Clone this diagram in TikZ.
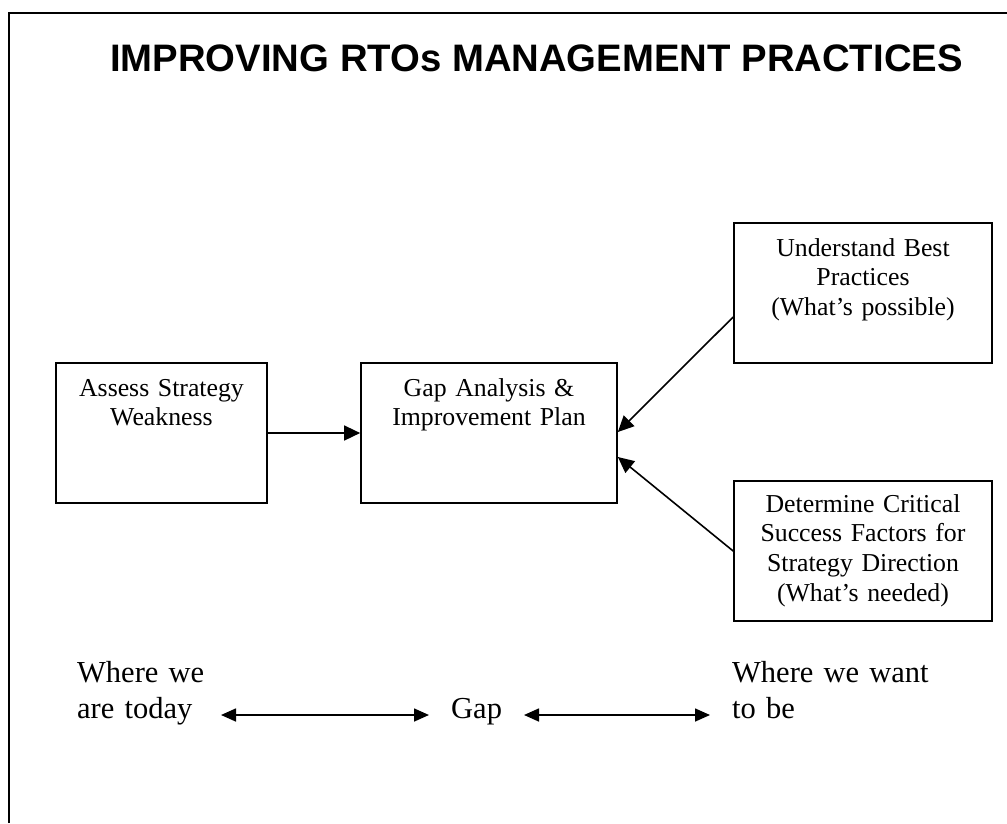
\documentclass[tikz,border=0pt]{standalone}
\usepackage{fontspec}
\setmainfont{Liberation Serif}
\newfontfamily\titlefont{Liberation Sans}
\usetikzlibrary{arrows.meta}
\begin{document}
\begin{tikzpicture}[x=1pt,y=-1pt,
  box/.style={draw, line width=1.7pt, inner sep=0pt, minimum height=140pt},
  boxtext/.style={font=\fontsize{25.8}{29.8}\selectfont, text width=250pt, align=center, inner sep=0pt, anchor=base},
  bottomtext/.style={font=\fontsize{30.5}{36}\selectfont, inner sep=0pt},
  arr/.style={line width=1.6pt, -{Triangle[length=16pt,width=15pt]}},
  dbl/.style={line width=1.6pt, {Triangle[length=15pt,width=13pt]}-{Triangle[length=15pt,width=13pt]}}
]
\useasboundingbox (0,0) rectangle (1007,823);
\draw[line width=1.8pt] (9,823) -- (9,12.7) -- (1007,12.7);

\node[font=\titlefont\bfseries\fontsize{38.3}{46}\selectfont, inner sep=0pt, anchor=base] (title) at (536.5,71) {IMPROVING RTOs MANAGEMENT PRACTICES};

\node[box, minimum width=211pt] (A) at (161.5,433) {};
\node[box, minimum width=256pt] (B) at (489,433) {};
\node[box, minimum width=258pt] (C) at (863,293) {};
\node[box, minimum width=258pt] (D) at (863,551) {};

\node[boxtext] (At) at ([yshift=-34pt]A.north) {Assess Strategy\\Weakness};
\node[boxtext] (Bt) at ([yshift=-34pt]B.north) {Gap Analysis \&\\Improvement Plan};
\node[boxtext] (Ct) at ([yshift=-34pt]C.north) {Understand Best\\Practices\\(What’s possible)};
\node[boxtext] (Dt) at ([yshift=-32pt]D.north) {Determine Critical\\Success Factors for\\Strategy Direction\\(What’s needed)};

\draw[arr] (A.east) -- (B.west);
\draw[arr] ([yshift=-24pt]C.west) -- ([yshift=1pt]B.east);
\draw[arr] (D.west) -- ([yshift=-24pt]B.east);

\node[bottomtext, text width=250pt, align=left, anchor=base west] (here) at (77,682) {Where we\\are today};
\node[bottomtext, anchor=base west] (gap) at (451,718) {Gap};
\node[bottomtext, text width=250pt, align=left, anchor=base west] (there) at (732,682) {Where we want\\to be};

\coordinate (l1) at (221,715);
\coordinate (l2) at (429,715);
\coordinate (r1) at (524,715);
\coordinate (r2) at (710,715);
\draw[dbl] (l1) -- (l2);
\draw[dbl] (r1) -- (r2);
\end{tikzpicture}
\end{document}
